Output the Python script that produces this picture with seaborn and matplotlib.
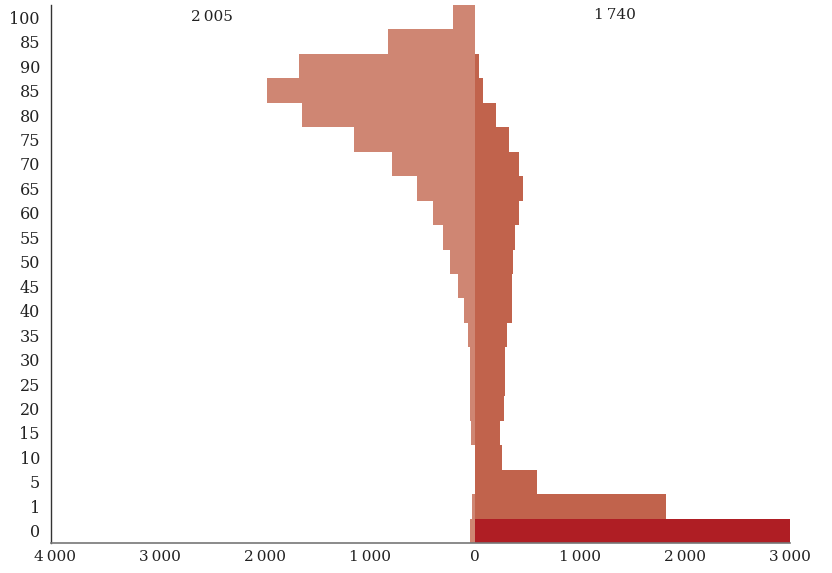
import pandas as pd
import seaborn as sns
import matplotlib.pyplot as plt

# age groups, top to bottom (labels as printed on the chart)
age_labels = ["100", "85", "90", "85", "80", "75", "70", "65", "60", "55", "50",
              "45", "40", "35", "30", "25", "20", "15", "10", "5", "1", "0"]
pop_2005 = [215, 825, 1680, 1985, 1650, 1150, 795, 550, 405, 310, 235,
            165, 110, 70, 52, 52, 52, 43, 5, 5, 33, 52]
pop_1740 = [0, 0, 33, 80, 195, 320, 415, 452, 415, 376, 357,
            348, 348, 300, 281, 281, 271, 233, 252, 586, 1815, 3000]
x_ticks = [-4000, -3000, -2000, -1000, 0, 1000, 2000, 3000]

rows = list(range(len(age_labels)))
df_left = pd.DataFrame({"row": rows, "value": [-v for v in pop_2005]})
df_right = pd.DataFrame({"row": rows, "value": pop_1740,
                         "hl": ["no"] * (len(rows) - 1) + ["yes"]})

sns.set_style("white")
plt.rcParams["font.family"] = ["DejaVu Serif"]

fig = plt.figure(figsize=(8.32, 5.73), dpi=100)
ax = fig.add_axes([51 / 832, 30 / 573, 739 / 832, 538 / 573])

# 2005 on the left, 1740 on the right (drawn on top)
sns.barplot(data=df_left, x="value", y="row", orient="h", color="#CF8673",
            saturation=1, width=1, linewidth=0, edgecolor="none", ax=ax)
sns.barplot(data=df_right, x="value", y="row", orient="h", hue="hl",
            palette={"no": "#C1634C", "yes": "#AF1E24"}, saturation=1,
            dodge=False, legend=False, width=1, linewidth=0, edgecolor="none", ax=ax)

ax.set_xlim(-4040, 3000)
ax.set_ylim(len(rows) - 0.5, -0.5)
ax.set_xticks(x_ticks)
ax.set_xticklabels([f"{abs(t):,}".replace(",", "\u2009") for t in x_ticks],
                   fontsize=11, color="#222222")
ax.set_yticks(rows)
ax.set_yticklabels(age_labels, fontsize=11.5, color="#222222")
ax.tick_params(axis="both", length=0, pad=5)
ax.tick_params(axis="y", pad=8)
ax.set_xlabel("")
ax.set_ylabel("")

sns.despine(ax=ax, top=True, right=True)
ax.spines["left"].set_color("#333333")
ax.spines["left"].set_linewidth(1)
ax.spines["bottom"].set_color("#777777")
ax.spines["bottom"].set_linewidth(1.2)

ax.text(-2510, 0, "2\u2009005", ha="center", va="center", fontsize=11, color="#222222")
ax.text(1330, -0.1, "1\u2009740", ha="center", va="center", fontsize=11, color="#222222")

fig.savefig("out.png", dpi=100)
